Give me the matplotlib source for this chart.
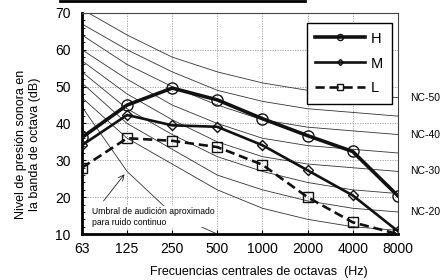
import numpy as np
import matplotlib
matplotlib.use("Agg")
import matplotlib.pyplot as plt
from matplotlib.lines import Line2D

plt.rcParams['font.family'] = ['Liberation Sans', 'DejaVu Sans']

freq_labels = ["63", "125", "250", "500", "1000", "2000", "4000", "8000"]

# measured spectra
level_H = [36.2, 45.0, 49.6, 46.4, 41.3, 36.7, 32.4, 20.4]
level_M = [34.1, 42.3, 39.5, 39.1, 34.1, 27.3, 20.5, 10.8]
level_L = [28.0, 36.0, 35.3, 33.6, 28.8, 20.0, 13.2, 10.0]

# NC reference curves
nc_names = ["NC-15", "NC-20", "NC-25", "NC-30", "NC-35", "NC-40", "NC-45", "NC-50"]
nc_values = [
    [47, 36, 29, 22, 17, 14, 12, 11],
    [51, 40, 33, 26, 22, 19, 17, 16],
    [54, 44, 37, 31, 27, 24, 22, 21],
    [57, 48, 41, 35, 31, 29, 28, 27],
    [60, 52, 45, 40, 36, 34, 33, 32],
    [64, 56, 50, 45, 41, 39, 38, 37],
    [67, 60, 54, 49, 46, 44, 43, 42],
    [71, 64, 58, 54, 51, 49, 48, 47],
]
nc_labeled = ["NC-50", "NC-40", "NC-30", "NC-20"]

# approximate hearing threshold (63..500 Hz)
threshold = [44.5, 27.0, 15.5, 10.0]

x = np.arange(len(freq_labels))

fig = plt.figure(figsize=(4.43, 2.80), dpi=100)
ax = fig.add_axes([0.185, 0.164, 0.713, 0.790])

for name, vals in zip(nc_names, nc_values):
    ax.plot(x, vals, color="#333333", lw=0.6, zorder=2)
    if name in nc_labeled:
        ax.text(1.038, vals[-1], name, transform=ax.get_yaxis_transform(),
                fontsize=7.5, va="center", ha="left", clip_on=False)

ax.plot(x[:len(threshold)], threshold, color="#333333", lw=0.6, zorder=2)

ax.plot(x, level_H, color="#111111", lw=2.6, marker="o", ms=8,
        mfc="none", mec="#111111", mew=1.0, label="H", zorder=5)
ax.plot(x, level_M, color="#111111", lw=1.9, marker="D", ms=5.5,
        mfc="none", mec="#111111", mew=1.0, label="M", zorder=5)
ax.plot(x, level_L, color="#111111", lw=1.9, ls=(0, (3.5, 1.8)), marker="s",
        ms=7.5, mfc="none", mec="#111111", mew=1.0, label="L", zorder=5)

ax.text(0.22, 17.4, "Umbral de audición aproximado\npara ruido continuo",
        fontsize=6.2, va="top", ha="left", linespacing=1.25,
        bbox=dict(facecolor="white", edgecolor="none", pad=0.5), zorder=4)
ax.annotate("", xy=(0.98, 26.8), xytext=(0.44, 18.4),
            arrowprops=dict(arrowstyle="->", lw=0.6, color="#222222"), zorder=4)

ax.set_xlim(0, len(freq_labels) - 1)
ax.set_ylim(10, 70)
ax.set_xticks(x)
ax.set_xticklabels(freq_labels)
ax.set_yticks(range(10, 71, 10))
ax.set_yticks(range(10, 71, 2), minor=True)
ax.tick_params(axis="both", which="major", direction="in", labelsize=10, length=3)
ax.tick_params(axis="y", which="major", pad=8)
ax.tick_params(axis="x", which="major", pad=6)
ax.tick_params(axis="y", which="minor", direction="in", length=2.5)
ax.grid(True, which="major", color="#999999", ls=(0, (1.5, 1.5)), lw=0.6)

ax.spines["left"].set_linewidth(2)
ax.spines["bottom"].set_linewidth(2)
ax.spines["top"].set_linewidth(0.8)
ax.spines["right"].set_linewidth(0.8)
ax.spines["top"].set_color("#444444")
ax.spines["right"].set_color("#444444")

leg = ax.legend(loc="upper right", bbox_to_anchor=(0.981, 0.955), borderaxespad=0,
                fontsize=10.5, handlelength=3.4, labelspacing=0.75, markerscale=0.55,
                fancybox=False, framealpha=1, edgecolor="black", borderpad=0.6,
                handletextpad=0.4)
leg.get_frame().set_linewidth(1.0)

fig.text(28 / 443, 0.486, "Nivel de presión sonora en\nla banda de octava (dB)",
         rotation=90, fontsize=9, ha="center", va="center", linespacing=1.3)
fig.text(259 / 443, 0.029, "Frecuencias centrales de octavas  (Hz)",
         fontsize=9, ha="center", va="center")

fig.add_artist(Line2D([60 / 443, 305 / 443], [1 - 1 / 280, 1 - 1 / 280],
                      color="black", lw=2, transform=fig.transFigure))

fig.savefig("out.png", dpi=100)
